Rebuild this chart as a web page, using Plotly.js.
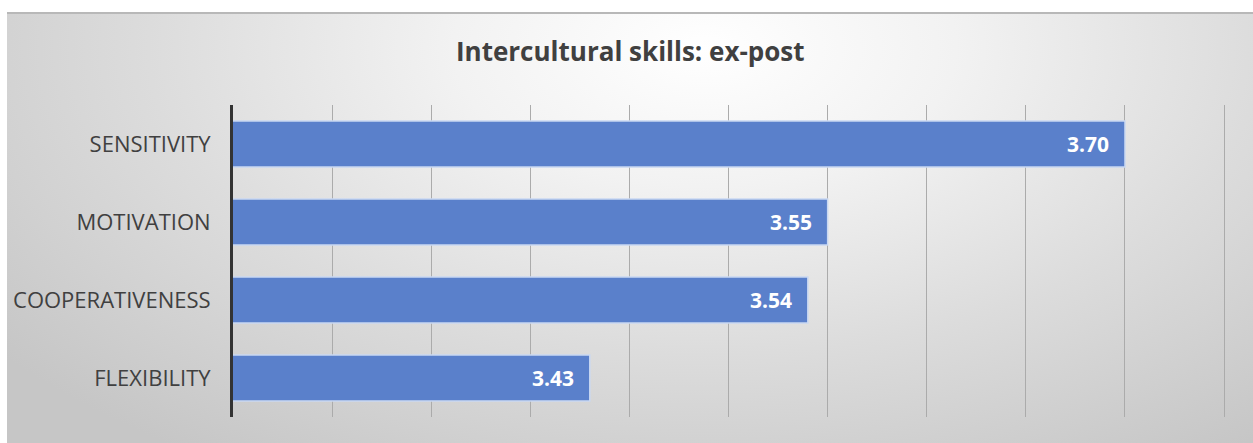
<!DOCTYPE html>
<html>
<head>
<meta charset="utf-8">
<script src="https://cdn.plot.ly/plotly-3.0.1.min.js"></script>
<style>
html,body{margin:0;padding:0;background:#ffffff;}
#frame{position:absolute;left:7px;top:12px;width:1246px;height:431px;
  background:radial-gradient(ellipse 72% 115% at 56% 8%, #ffffff 0%, #f2f2f2 28%, #dcdcdc 62%, #c6c6c6 100%);
  border-top:2px solid #b8b8b8;box-sizing:border-box;}
#chart{position:absolute;left:0;top:0;width:1253px;height:443px;}
</style>
</head>
<body>
<div id="frame"></div>
<div id="chart"></div>
<script>
const categories = ["FLEXIBILITY", "COOPERATIVENESS", "MOTIVATION", "SENSITIVITY"];
const values = [3.43, 3.54, 3.55, 3.70];
const labels = ["3.43", "3.54", "3.55", "3.70"];
const tickValues = [3.25, 3.30, 3.35, 3.40, 3.45, 3.50, 3.55, 3.60, 3.65, 3.70, 3.75];

const FONT = "Open Sans, sans-serif";

const trace = {
  type: "bar",
  orientation: "h",
  y: categories,
  x: values,
  marker: {color: "#5a80cb", line: {color: "#c9d8f2", width: 1.5}},
  hoverinfo: "none"
};

const annotations = categories.map((c, i) => ({
  x: values[i], y: c, xref: "x", yref: "y",
  text: "<b>" + labels[i] + "</b>",
  showarrow: false, xanchor: "right", yanchor: "middle",
  xshift: -14,
  font: {family: FONT, size: 21, color: "#ffffff"}
}));

const layout = {
  width: 1253, height: 443,
  paper_bgcolor: "rgba(0,0,0,0)",
  plot_bgcolor: "rgba(0,0,0,0)",
  margin: {l: 233, r: 19, t: 105, b: 26, pad: 0},
  showlegend: false,
  bargap: 0.41,
  title: {
    text: "<b>Intercultural skills: ex-post</b>",
    x: 0.503, xanchor: "center",
    y: 0.883, yanchor: "middle",
    font: {family: FONT, size: 26, color: "#404040"}
  },
  xaxis: {
    range: [3.25, 3.755],
    tickvals: tickValues,
    showticklabels: false,
    showgrid: true,
    gridcolor: "#ababab",
    gridwidth: 1,
    zeroline: false,
    showline: false,
    fixedrange: true
  },
  yaxis: {
    showline: true,
    linecolor: "#333333",
    linewidth: 3,
    showgrid: false,
    ticks: "",
    ticklabelstandoff: 15,
    tickfont: {family: FONT, size: 22, color: "#404040"},
    fixedrange: true
  },
  annotations: annotations
};

Plotly.newPlot("chart", [trace], layout, {displayModeBar: false, staticPlot: true});
</script>
</body>
</html>
